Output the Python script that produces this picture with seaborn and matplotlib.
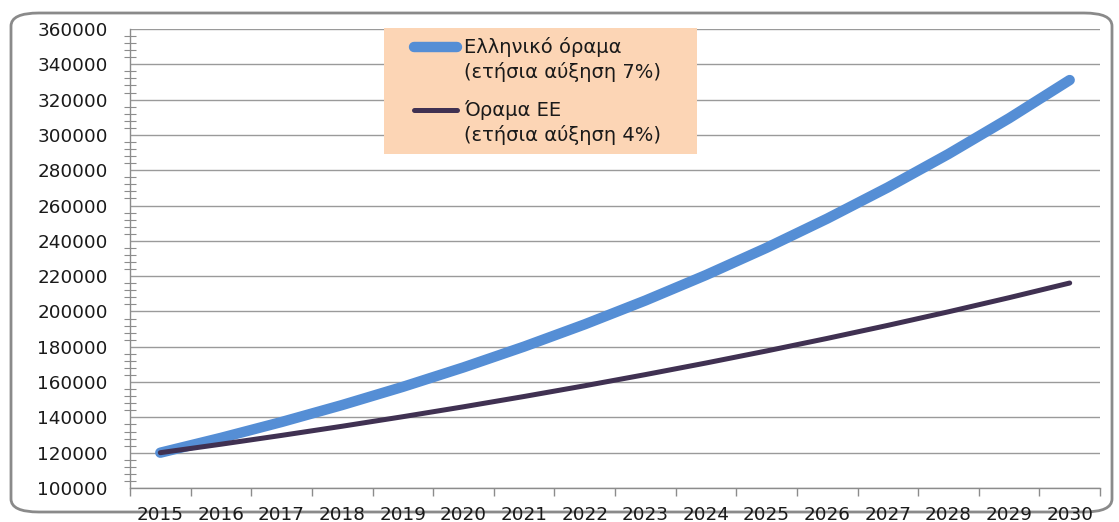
import matplotlib
matplotlib.use("Agg")
import matplotlib.pyplot as plt
import seaborn as sns
import pandas as pd
import numpy as np
from matplotlib.patches import FancyBboxPatch
from matplotlib.ticker import MultipleLocator, FixedLocator

years = [2015, 2016, 2017, 2018, 2019, 2020, 2021, 2022, 2023, 2024, 2025, 2026, 2027, 2028, 2029, 2030]
greek_vision = [120000, 128400, 137388, 147005, 157296, 168306, 180088, 192694,
                206182, 220615, 236058, 252582, 270263, 289181, 309424, 331084]
eu_vision = [120000, 124800, 129792, 134984, 140383, 145998, 151838, 157912,
             164228, 170798, 177629, 184735, 192124, 199809, 207801, 216113]
series_names = ["Ελληνικό όραμα\n(ετήσια αύξηση 7%)", "Όραμα ΕΕ\n(ετήσια αύξηση 4%)"]

sns.set_theme(style="white")
plt.rcParams['font.family'] = ['DejaVu Sans']

FS = 13.2
LFS = 14
pos = list(range(len(years)))
df = pd.DataFrame({
    "pos": pos * 2,
    "value": greek_vision + eu_vision,
    "series": [series_names[0]] * len(years) + [series_names[1]] * len(years),
})

W, H = 1119, 522
fig = plt.figure(figsize=(W / 100, H / 100), dpi=100)
ax = fig.add_axes([130 / W, 1 - 488 / H, (1100 - 130) / W, (488 - 29) / H])

palette = {series_names[0]: "#558ED5", series_names[1]: "#403152"}
sns.lineplot(data=df, x="pos", y="value", hue="series", palette=palette, ax=ax,
             legend=True, solid_capstyle="round")
ax.lines[0].set_linewidth(7.5)
ax.lines[1].set_linewidth(3.6)

ax.set_xlim(-0.5, len(years) - 0.5)
ax.set_ylim(100000, 360000)
ax.yaxis.set_major_locator(MultipleLocator(20000))
ax.yaxis.set_minor_locator(MultipleLocator(4000))
ax.set_xticks(pos)
ax.set_xticklabels([str(y) for y in years])
ax.xaxis.set_minor_locator(FixedLocator([p - 0.5 for p in pos] + [len(years) - 0.5]))
ax.set_xlabel("")
ax.set_ylabel("")

ax.grid(axis="y", color="#9a9a9a", lw=1.0)
ax.grid(axis="x", visible=False)
for s in ["top", "right"]:
    ax.spines[s].set_visible(False)
for s in ["left", "bottom"]:
    ax.spines[s].set_color("#8c8c8c")
    ax.spines[s].set_linewidth(1.0)

ax.tick_params(axis="y", which="major", direction="out", length=5, width=1, color="#8c8c8c",
               labelsize=FS, labelcolor="#1a1a1a", pad=11)
ax.tick_params(axis="y", which="minor", direction="inout", length=8, width=0.8, color="#8c8c8c", left=True)
ax.tick_params(axis="x", which="major", direction="out", length=5, width=1, color="#8c8c8c",
               labelsize=FS, labelcolor="#1a1a1a", pad=8)
ax.tick_params(axis="x", which="minor", direction="out", length=6, width=1, color="#8c8c8c", bottom=True)

handles, labels = ax.get_legend_handles_labels()
HL = 3.55
leg = ax.legend(handles, labels, loc="upper left", mode="expand",
                bbox_to_anchor=(384 / W, 1 - 154 / H, 313 / W, 126 / H), bbox_transform=fig.transFigure,
                frameon=True, facecolor="#FCD5B5", edgecolor="none", framealpha=1,
                fancybox=False, handlelength=HL, handletextpad=0.1,
                labelspacing=0.95, borderpad=0.45, borderaxespad=0,
                prop={"size": LFS})
for t in leg.get_texts():
    t.set_color("#1a1a1a")
    t.set_linespacing(1.3)
for lh, lw in zip(leg.get_lines(), [7.5, 3.6]):
    lh.set_linewidth(lw)
    lh.set_solid_capstyle("round")
    yd = np.asarray(lh.get_ydata(), dtype=float)
    lh.set_ydata(yd + LFS * 0.66)
    total = HL * LFS
    lh.set_xdata(np.linspace(15.0, total - 3.6, len(yd)))

border = FancyBboxPatch((11 / W, 10 / H), (1112 - 11) / W, (509 - 10) / H,
                        boxstyle="round,pad=0,rounding_size=0.025",
                        transform=fig.transFigure, facecolor="none",
                        edgecolor="#8a8a8a", lw=2, zorder=-1)
fig.patches.append(border)

fig.savefig("out.png", dpi=100)
